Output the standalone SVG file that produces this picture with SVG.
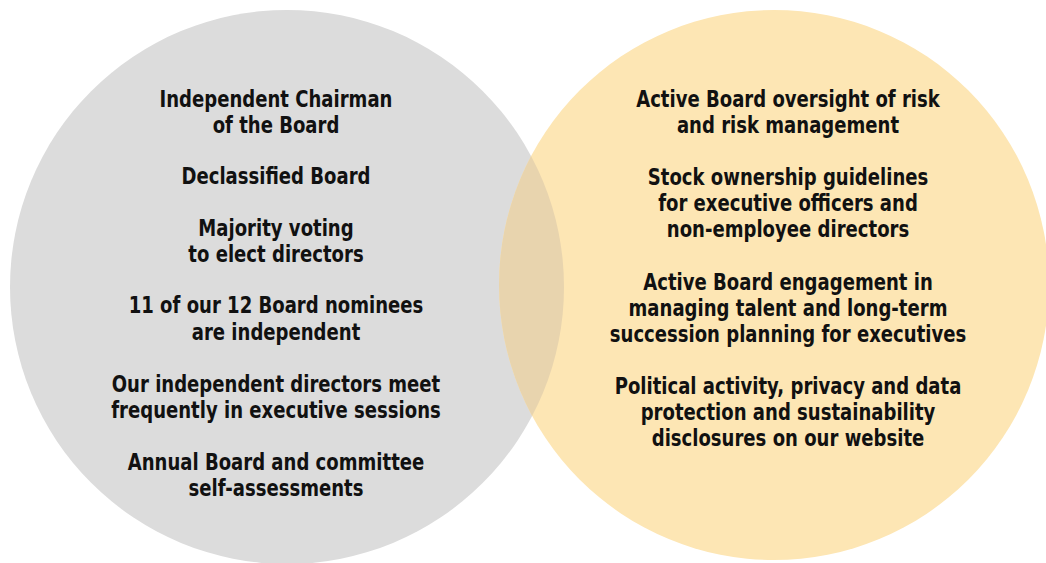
<svg xmlns="http://www.w3.org/2000/svg" width="1046" height="563" viewBox="0 0 1046 563">
<style>
text{font-family:"DejaVu Sans Condensed","DejaVu Sans",sans-serif;font-weight:bold;font-size:23px;fill:#111;text-anchor:middle}
</style>
<defs>
<clipPath id="cl"><circle cx="287" cy="287" r="277"/></clipPath>
</defs>
<rect width="1046" height="563" fill="#fff"/>
<g id="left-circle"><circle cx="287" cy="287" r="277" fill="#dcdcdc"/></g>
<g id="right-circle"><circle cx="774" cy="285" r="275" fill="#fde6b4"/></g>
<g id="overlap"><circle cx="774" cy="285" r="275" fill="#e8d4ae" clip-path="url(#cl)"/></g>
<g id="left-text" transform="translate(276,0) scale(0.873,1)">
<text x="0" y="107">Independent Chairman</text>
<text x="0" y="133">of the Board</text>
<text x="0" y="184">Declassified Board</text>
<text x="0" y="236">Majority voting</text>
<text x="0" y="262">to elect directors</text>
<text x="0" y="313">11 of our 12 Board nominees</text>
<text x="0" y="340">are independent</text>
<text x="0" y="392">Our independent directors meet</text>
<text x="0" y="418">frequently in executive sessions</text>
<text x="0" y="470">Annual Board and committee</text>
<text x="0" y="496">self-assessments</text>
</g>
<g id="right-text" transform="translate(788,0) scale(0.873,1)">
<text x="0" y="107">Active Board oversight of risk</text>
<text x="0" y="133">and risk management</text>
<text x="0" y="185">Stock ownership guidelines</text>
<text x="0" y="211">for executive officers and</text>
<text x="0" y="237">non-employee directors</text>
<text x="0" y="290">Active Board engagement in</text>
<text x="0" y="316">managing talent and long-term</text>
<text x="0" y="342">succession planning for executives</text>
<text x="0" y="394">Political activity, privacy and data</text>
<text x="0" y="420">protection and sustainability</text>
<text x="0" y="446">disclosures on our website</text>
</g>
</svg>
